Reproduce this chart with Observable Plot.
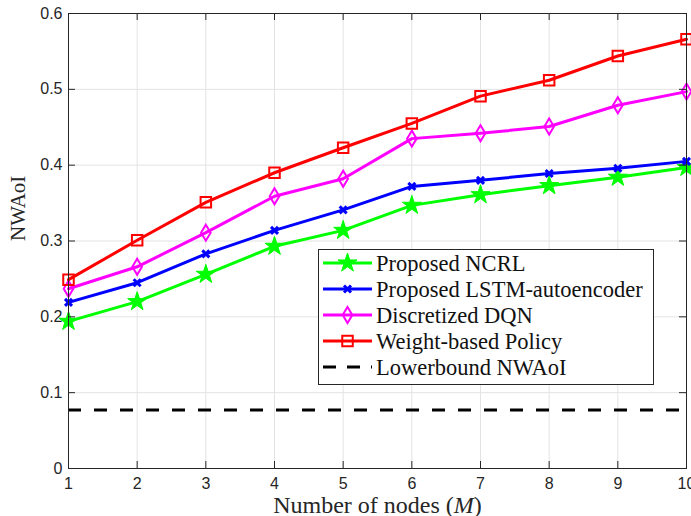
<!DOCTYPE html>
<html>
<head>
<meta charset="utf-8">
<script src="https://cdn.jsdelivr.net/npm/d3@7"></script>
<script src="https://cdn.jsdelivr.net/npm/@observablehq/plot@0.6"></script>
<style>
  html, body { margin: 0; padding: 0; background: white; overflow: hidden; }
  #chart { width: 691px; height: 516px; overflow: hidden; }
</style>
</head>
<body>
<div id="chart"></div>
<script>
// ---- data ----
const nodes = [1, 2, 3, 4, 5, 6, 7, 8, 9, 10];
const ncrl = [0.194, 0.220, 0.256, 0.293, 0.314, 0.347, 0.361, 0.373, 0.384, 0.397];
const lstm = [0.219, 0.245, 0.283, 0.314, 0.341, 0.372, 0.380, 0.389, 0.396, 0.405];
const dqn = [0.237, 0.266, 0.311, 0.359, 0.382, 0.435, 0.442, 0.451, 0.479, 0.497];
const weight = [0.249, 0.301, 0.351, 0.390, 0.423, 0.455, 0.491, 0.512, 0.544, 0.566];
const lowerbound = 0.077;
const seriesNames = ["Proposed NCRL", "Proposed LSTM-autoencoder", "Discretized DQN", "Weight-based Policy", "Lowerbound NWAoI"];
const xTicks = [1, 2, 3, 4, 5, 6, 7, 8, 9, 10];
const yTicks = [0, 0.1, 0.2, 0.3, 0.4, 0.5, 0.6];

// ---- custom MATLAB-like symbols ----
const pentagram = { draw(ctx, size) {
  const r = Math.sqrt(size / Math.PI), ri = r * 0.382;
  for (let i = 0; i < 10; i++) {
    const rr = i % 2 ? ri : r, a = -Math.PI / 2 + i * Math.PI / 5;
    const x = rr * Math.cos(a), y = rr * Math.sin(a);
    i ? ctx.lineTo(x, y) : ctx.moveTo(x, y);
  }
  ctx.closePath();
}};
const diamond = { draw(ctx, size) {
  const r = Math.sqrt(size / Math.PI), w = r * 0.6;
  ctx.moveTo(0, -r); ctx.lineTo(w, 0); ctx.lineTo(0, r); ctx.lineTo(-w, 0); ctx.closePath();
}};
const square = { draw(ctx, size) {
  const r = Math.sqrt(size / Math.PI) * 0.7;
  ctx.moveTo(-r, -r); ctx.lineTo(r, -r); ctx.lineTo(r, r); ctx.lineTo(-r, r); ctx.closePath();
}};
const cross = { draw(ctx, size) {
  const r = Math.sqrt(size / Math.PI);
  ctx.moveTo(-r, -r); ctx.lineTo(r, r); ctx.moveTo(r, -r); ctx.lineTo(-r, r);
}};

const series = [
  {name: seriesNames[0], values: ncrl, color: "#00ff00", symbol: pentagram, r: 10, fill: "#00ff00", sw: 1},
  {name: seriesNames[1], values: lstm, color: "#0000ff", symbol: cross, r: 3.5, fill: "none", sw: 3},
  {name: seriesNames[2], values: dqn, color: "#ff00ff", symbol: diamond, r: 8, fill: "none", sw: 2},
  {name: seriesNames[3], values: weight, color: "#ff0000", symbol: square, r: 7.5, fill: "none", sw: 2}
];
const rows = series.flatMap(s => nodes.map((x, i) => ({x, y: s.values[i], name: s.name})));

const W = 691, H = 516, mL = 68, mR = 5, mT = 13, mB = 48;
const pw = W - mL - mR, ph = H - mT - mB;
const axisColor = "#262626";
const serif = "'Liberation Serif', 'Times New Roman', serif";

const marks = [
  Plot.gridX(xTicks, {stroke: "#e3e3e3", strokeOpacity: 1}),
  Plot.gridY(yTicks, {stroke: "#e3e3e3", strokeOpacity: 1}),
  Plot.ruleY([lowerbound], {stroke: "black", strokeWidth: 3, strokeDasharray: "13,13"})
];
for (const s of series) {
  const d = rows.filter(r => r.name === s.name);
  marks.push(Plot.line(d, {x: "x", y: "y", stroke: s.color, strokeWidth: 3}));
  marks.push(Plot.dot(d, {x: "x", y: "y", symbol: s.symbol, r: s.r, stroke: s.color, fill: s.fill, strokeWidth: s.sw}));
}
marks.push(
  Plot.frame({stroke: axisColor, strokeWidth: 1}),
  Plot.ruleX(xTicks, {stroke: axisColor, insetTop: ph - 7}),
  Plot.ruleX(xTicks, {stroke: axisColor, insetBottom: ph - 7}),
  Plot.ruleY(yTicks, {stroke: axisColor, insetRight: pw - 7}),
  Plot.ruleY(yTicks, {stroke: axisColor, insetLeft: pw - 7}),
  Plot.axisX(xTicks, {tickSize: 0, tickPadding: 9, label: null, fontSize: 16, color: axisColor}),
  Plot.axisY(yTicks, {tickSize: 0, tickPadding: 6, label: null, fontSize: 16, color: axisColor,
    tickFormat: d => String(+d.toFixed(1))}),
  Plot.text(["Number of nodes (M)"], {frameAnchor: "bottom", lineAnchor: "bottom", dy: 44, fontSize: 24, fontFamily: serif, fill: "#262626", className: "xlabel"}),
  Plot.text(["NWAoI"], {frameAnchor: "left", lineAnchor: "middle", dx: -50, rotate: -90, fontSize: 21, fontFamily: serif, fill: "#262626"})
);

const chart = Plot.plot({
  width: W, height: H, marginLeft: mL, marginRight: mR, marginTop: mT, marginBottom: mB,
  x: {domain: [1, 10]},
  y: {domain: [0, 0.6]},
  style: {fontFamily: "'Liberation Sans', Arial, sans-serif", fontSize: "16px", background: "white", overflow: "hidden"},
  marks
});
document.getElementById("chart").appendChild(chart);

// italic M in x label
const xl = d3.select(chart).select(".xlabel text");
if (!xl.empty()) {
  xl.text(null);
  xl.append("tspan").text("Number of nodes (");
  xl.append("tspan").attr("font-style", "italic").text("M");
  xl.append("tspan").text(")");
}

// legend
const svg = d3.select(chart);
const lg = svg.append("g").attr("class", "legend").attr("text-anchor", "start");
const lx = 318, ly = 249, lw = 335, lh = 135;
lg.append("rect").attr("x", lx + 0.5).attr("y", ly + 0.5).attr("width", lw).attr("height", lh)
  .attr("fill", "white").attr("stroke", axisColor).attr("stroke-width", 1);
const legendItems = [...series, {name: seriesNames[4], color: "black", dashed: true}];
legendItems.forEach((s, i) => {
  const cy = ly + 14 + i * 26;
  lg.append("line").attr("x1", lx + 5).attr("x2", lx + 54).attr("y1", cy).attr("y2", cy)
    .attr("stroke", s.color).attr("stroke-width", 3)
    .attr("stroke-dasharray", s.dashed ? "13,11" : null);
  if (s.symbol) {
    lg.append("path").attr("transform", `translate(${lx + 29.5},${cy})`)
      .attr("d", d3.symbol(s.symbol, s.r * s.r * Math.PI)())
      .attr("fill", s.fill).attr("stroke", s.color).attr("stroke-width", s.sw);
  }
  lg.append("text").attr("x", lx + 58).attr("y", cy).attr("dy", "0.35em")
    .attr("text-anchor", "start")
    .attr("font-family", serif).attr("font-size", 22.5).attr("fill", "#111").text(s.name);
});
</script>
</body>
</html>
